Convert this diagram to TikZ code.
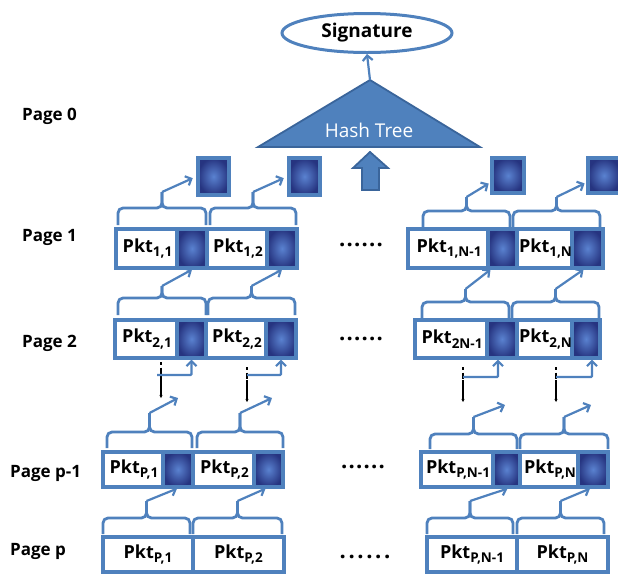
\documentclass[tikz,border=0pt]{standalone}
\usepackage{fontspec}
\setmainfont{Open Sans}
\usetikzlibrary{fit,arrows.meta,shapes.geometric}
\definecolor{ob}{HTML}{4F81BD}
\definecolor{obd}{HTML}{3A659B}
\definecolor{sqin}{HTML}{5A82D0}
\definecolor{sqout}{HTML}{263480}
\newcommand\sbs[1]{\raisebox{-0.45ex}{\fontsize{13.5}{13.5}\selectfont #1}}
% name, x1, x2, square x1, y1, y2, label
\newcommand\pkb[7]{%
  \node[boxst, fit={(#2,#5) (#3,#6)}] (#1) {};
  \node[sqst, fit={(#4,#5) (#3,#6)}] (q#1) {};
  \node[lbl] (t#1) at ({(#2+#4)/2+1},{(#5+#6)/2}) {#7};}
% name, x1, x2, y1, y2, label
\newcommand\pkc[6]{%
  \node[boxst, fit={(#2,#4) (#3,#5)}] (#1) {};
  \node[lbl] (t#1) at ({(#2+#3)/2},{(#4+#5)/2}) {#6};}
% x1, x2, yh, ytip, ypeak, name
\newcommand\brc[6]{%
  \draw[br] (#1,#4) |- ({(#1+#2)/2},#3) -- ({(#1+#2)/2},#5);
  \draw[br] (#2,#4) |- ({(#1+#2)/2},#3) -- ({(#1+#2)/2},#5);
  \coordinate (#6) at ({(#1+#2)/2},#5);}
\newcommand\sixdots[1]{.\kern#1.\kern#1.\kern#1.\kern#1.\kern#1.}
\begin{document}
\begin{tikzpicture}[x=1pt,y=-1pt,
  boxst/.style={draw=ob, line width=3.2pt, fill=white, inner sep=0pt},
  sqst/.style={draw=ob, line width=3.2pt, inner color=sqin, outer color=sqout, inner sep=0pt},
  lbl/.style={font=\fontsize{18}{18}\selectfont\bfseries, inner sep=0pt},
  pagelbl/.style={font=\fontsize{17}{17}\selectfont\bfseries, anchor=west, inner sep=0pt},
  dots/.style={font=\fontsize{22}{22}\selectfont\bfseries, inner sep=0pt},
  br/.style={draw=ob, line width=2.8pt, rounded corners=5pt},
  ar/.style={draw=ob, line width=2.2pt, -{Straight Barb[length=5pt,width=10pt]}},
  blk/.style={draw=black, line width=1.8pt, dash pattern=on 2.5pt off 3pt on 6pt off 1.5pt on 60pt, -{Stealth[length=3pt,width=3pt]}}
]
\useasboundingbox (0,0) rectangle (618,574);

% Signature and hash tree
\node[draw=ob, line width=3pt, ellipse, minimum width=170pt, minimum height=39pt, inner sep=0pt,
      font=\fontsize{19}{19}\selectfont\bfseries] (sig) at (367,33) {Signature};
\filldraw[fill=ob, draw=obd, line width=1.8pt] (370,80) -- (480,147) -- (258,147) -- cycle;
\coordinate (apex) at (370,80);
\node[text=white, font=\fontsize{19}{19}\selectfont, inner sep=0pt] (ht) at (369,130) {Hash Tree};
\draw[ar] (apex) -- (sig.south);
\filldraw[fill=ob, draw=obd, line width=1.8pt] (370,152) -- (388,168) -- (379,168) -- (379,190)
   -- (362,190) -- (362,168) -- (353,168) -- cycle;

% page labels
\node[pagelbl] (pg0) at (22,116) {Page 0};
\node[pagelbl] (pg1) at (22,237) {Page 1};
\node[pagelbl] (pg2) at (22,343) {Page 2};
\node[pagelbl] (pg3) at (10,473) {Page p-1};
\node[pagelbl] (pg4) at (10,551) {Page p};

% page 0 squares
\node[sqst, fit={(198,158) (229,195)}] (S1) {};
\node[sqst, fit={(289,158) (320,195)}] (S2) {};
\node[sqst, fit={(492,158) (524,193)}] (S3) {};
\node[sqst, fit={(588,158) (620,193)}] (S4) {};

% page 1
\pkb{A11}{116}{207}{177}{229}{268}{Pkt\sbs{1,1}}
\pkb{A12}{207}{297}{267}{229}{268}{Pkt\sbs{1,2}}
\pkb{A13}{408}{517}{488}{229}{268}{Pkt\sbs{1,N-1}}
\pkb{A14}{517}{603}{572}{229}{268}{Pkt\sbs{1,N}}
\node[dots] (d1) at (361,245) {\sixdots{1.2pt}};

% page 2
\pkb{A21}{115}{206}{177}{320}{358}{Pkt\sbs{2,1}}
\pkb{A22}{206}{296}{266}{320}{358}{Pkt\sbs{2,2}}
\pkb{A23}{415}{517}{487}{320}{358}{Pkt\sbs{2N-1}}
\pkb{A24}{517}{600}{572}{320}{358}{Pkt\sbs{2,N}}
\node[dots] (d2) at (361,339) {\sixdots{1.2pt}};

% page p-1
\pkb{B1}{103}{193}{163}{452}{487}{Pkt\sbs{P,1}}
\pkb{B2}{193}{283}{254}{452}{487}{Pkt\sbs{P,2}}
\pkb{B3}{421}{520}{493}{452}{487}{Pkt\sbs{P,N-1}}
\pkb{B4}{520}{608}{578}{452}{487}{Pkt\sbs{P,N}}
\node[dots] (d3) at (363,467) {\sixdots{1.2pt}};

% page p
\pkc{C1}{103}{193}{537}{572}{Pkt\sbs{P,1}}
\pkc{C2}{193}{284}{537}{572}{Pkt\sbs{P,2}}
\pkc{C3}{427}{517}{537}{572}{Pkt\sbs{P,N-1}}
\pkc{C4}{517}{608}{537}{572}{Pkt\sbs{P,N}}
\node[dots] (d4) at (365,557) {\sixdots{2.6pt}};

% braces over page 1
\brc{118}{206}{208}{225}{192}{b11}
\brc{210}{296}{208}{225}{192}{b12}
\brc{423}{510}{211}{227}{197}{b13}
\brc{513}{600}{211}{227}{197}{b14}
\draw[ar, shorten >=4pt] (b11) -- (S1.west);
\draw[ar, shorten >=4pt] (b12) -- (S2.west);
\draw[ar, shorten >=2pt] (b13) -- ([yshift=-7pt]S3.west);
\draw[ar, shorten >=2pt] (b14) -- ([yshift=-7pt]S4.west);

% braces over page 2
\brc{118}{206}{298}{315}{286}{b21}
\brc{208}{295}{298}{315}{286}{b22}
\brc{422}{509}{302}{318}{289}{b23}
\brc{512}{599}{302}{318}{289}{b24}
\draw[ar] (b21) -- (qA11.south);
\draw[ar] (b22) -- (qA12.south);
\draw[ar] (b23) -- ([xshift=-12pt]qA13.south);
\draw[ar] (b24) -- ([xshift=-4pt]qA14.south);

% elided pages
\coordinate (k1a) at (161,362); \coordinate (k1b) at (161,398);
\coordinate (k2a) at (247,367); \coordinate (k2b) at (247,402);
\coordinate (k3a) at (463,367); \coordinate (k3b) at (463,402);
\coordinate (k4a) at (556,367); \coordinate (k4b) at (556,402);
\draw[blk] (k1a) -- (k1b);
\draw[blk] (k2a) -- (k2b);
\draw[blk] (k3a) -- (k3b);
\draw[blk] (k4a) -- (k4b);
\coordinate (e1) at (157,375);
\coordinate (e2) at (247,375);
\coordinate (e3) at (463,377);
\coordinate (e4) at (556,377);
\draw[ar, rounded corners=1pt] (e1) -| (qA21.south);
\draw[ar, rounded corners=1pt] (e2) -| (qA22.south);
\draw[ar, rounded corners=1pt] (e3) -| ([xshift=-4pt]qA23.south);
\draw[ar, rounded corners=1pt] (e4) -| ([xshift=6pt]qA24.south);

% braces over page p-1
\brc{107}{192}{432}{448}{413}{b31}
\brc{197}{283}{432}{448}{413}{b32}
\brc{430}{517}{434}{449}{417}{b33}
\brc{520}{608}{434}{449}{417}{b34}
\coordinate (f31) at (178,398);
\coordinate (f32) at (272,398);
\coordinate (f33) at (505,405);
\coordinate (f34) at (591,405);
\draw[ar] (b31) -- (f31);
\draw[ar] (b32) -- (f32);
\draw[ar] (b33) -- (f33);
\draw[ar] (b34) -- (f34);

% braces over page p
\brc{103}{190}{518}{534}{501}{b41}
\brc{193}{282}{518}{534}{501}{b42}
\brc{427}{513}{518}{534}{501}{b43}
\brc{517}{604}{518}{534}{501}{b44}
\draw[ar] (b41) -- ([xshift=-1pt]qB1.south);
\draw[ar] (b42) -- ([xshift=-3pt]qB2.south);
\draw[ar] (b43) -- ([xshift=1pt]qB3.south);
\draw[ar] (b44) -- ([xshift=-3pt]qB4.south);
\end{tikzpicture}
\end{document}
